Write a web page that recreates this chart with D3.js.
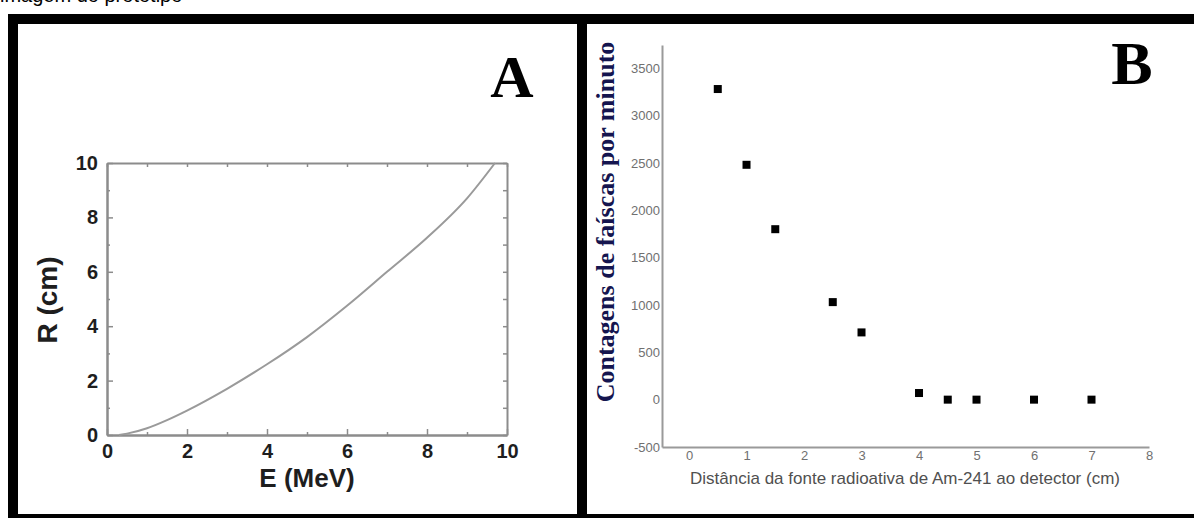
<!DOCTYPE html>
<html>
<head>
<meta charset="utf-8">
<script src="https://cdn.jsdelivr.net/npm/d3@7"></script>
<style>
	body { margin: 0; background: #fff; }
	svg { display: block; }
	.axA text { font-family: "Liberation Sans", Arial, sans-serif; font-weight: bold; font-size: 20px; fill: #1e1e1e; }
	.axA path, .axA line { stroke: #8c8c8c; }
	.axB text { font-family: "Liberation Sans", Arial, sans-serif; font-size: 13px; fill: #707070; }
	.axB path { stroke: #9a9a9a; stroke-width: 2; }
</style>
</head>
<body>
<svg id="chart" width="1194" height="518"></svg>
<script>
// panel A: range of alpha particles in air
const energyMeV = [0.3, 0.5, 1, 1.5, 2, 3, 4, 5, 6, 7, 8, 9, 9.7]
const rangeCm = [0, 0.05, 0.25, 0.55, 0.9, 1.7, 2.6, 3.6, 4.75, 6.0, 7.25, 8.7, 10]
const ticksA = [0, 2, 4, 6, 8, 10]
const minorA = [1, 3, 5, 7, 9]

// panel B: spark counts vs distance
const distanceCm = [0.5, 1, 1.5, 2.5, 3, 4, 4.5, 5, 6, 7]
const sparksPerMin = [3280, 2480, 1800, 1030, 710, 70, 0, 0, 0, 0]
const ticksBx = [0, 1, 2, 3, 4, 5, 6, 7, 8]
const ticksBy = [-500, 0, 500, 1000, 1500, 2000, 2500, 3000, 3500]

const svg = d3.select('#chart')

// caption line, only its lower edge is inside the picture
svg.append('text')
	.attr('x', 0).attr('y', 2)
	.style('font-family', 'Liberation Sans, Arial, sans-serif')
	.style('font-size', '20px')
	.text('imagem do protótipo')

// frame
svg.append('rect')
	.attr('x', 13).attr('y', 19).attr('width', 1200).attr('height', 500)
	.attr('fill', 'none').attr('stroke', '#000').attr('stroke-width', 10)
svg.append('line')
	.attr('x1', 582).attr('x2', 582).attr('y1', 14).attr('y2', 518)
	.attr('stroke', '#000').attr('stroke-width', 10)

// ---------- A ----------
let xA = d3.scaleLinear().domain([0, 10]).range([107, 507])
let yA = d3.scaleLinear().domain([0, 10]).range([435, 163])

let gA = svg.append('g')

gA.append('g').attr('class', 'axA').attr('transform', 'translate(0,435)')
	.call(d3.axisBottom(xA).tickValues(ticksA).tickSize(-6).tickSizeOuter(0).tickPadding(9))
gA.append('g').attr('class', 'axA').attr('transform', 'translate(0,435)')
	.call(d3.axisBottom(xA).tickValues(minorA).tickSize(-3).tickSizeOuter(0).tickFormat(''))
gA.append('g').attr('class', 'axA').attr('transform', 'translate(107,0)')
	.call(d3.axisLeft(yA).tickValues(ticksA).tickSize(-6).tickSizeOuter(0).tickPadding(9))
gA.append('g').attr('class', 'axA').attr('transform', 'translate(107,0)')
	.call(d3.axisLeft(yA).tickValues(minorA).tickSize(-3).tickSizeOuter(0).tickFormat(''))
gA.append('g').attr('class', 'axA').attr('transform', 'translate(0,163)')
	.call(d3.axisTop(xA).tickValues(ticksA.concat(minorA)).tickSize(-4).tickSizeOuter(0).tickFormat(''))
gA.append('g').attr('class', 'axA').attr('transform', 'translate(507,0)')
	.call(d3.axisRight(yA).tickValues(ticksA.concat(minorA)).tickSize(-4).tickSizeOuter(0).tickFormat(''))
gA.selectAll('.axA path').attr('stroke-width', 2)
gA.selectAll('.axA line').attr('stroke-width', 1.5)

let curve = d3.line()
	.x((d, i) => xA(energyMeV[i]))
	.y((d) => yA(d))
	.curve(d3.curveMonotoneX)

gA.append('path')
	.attr('d', curve(rangeCm))
	.attr('fill', 'none').attr('stroke', '#9a9a9a').attr('stroke-width', 2)

gA.append('text')
	.attr('x', 307).attr('y', 487).attr('text-anchor', 'middle')
	.style('font-family', 'Liberation Sans, Arial, sans-serif')
	.style('font-weight', 'bold').style('font-size', '26px').style('fill', '#1e1e1e')
	.text('E (MeV)')
gA.append('text')
	.attr('transform', 'translate(57,300) rotate(-90)').attr('text-anchor', 'middle')
	.style('font-family', 'Liberation Sans, Arial, sans-serif')
	.style('font-weight', 'bold').style('font-size', '28px').style('fill', '#1e1e1e')
	.text('R (cm)')
gA.append('text')
	.attr('x', 512).attr('y', 97).attr('text-anchor', 'middle')
	.style('font-family', 'Liberation Serif, Times New Roman, serif')
	.style('font-weight', 'bold').style('font-size', '60px')
	.text('A')

// ---------- B ----------
let xB = d3.scaleLinear().domain([-0.47, 8]).range([662, 1149])
let yB = d3.scaleLinear().domain([-500, 3745]).range([447, 45])

let gB = svg.append('g')

// plain hyphen for negatives, as in the original
let plain = (d) => String(d)

gB.append('g').attr('class', 'axB').attr('transform', 'translate(0,447)')
	.call(d3.axisBottom(xB).tickValues(ticksBx).tickSize(0).tickPadding(4).tickFormat(plain))
gB.append('g').attr('class', 'axB').attr('transform', 'translate(662,0)')
	.call(d3.axisLeft(yB).tickValues(ticksBy).tickSize(0).tickPadding(2).tickFormat(plain))

gB.selectAll('rect.pt')
	.data(sparksPerMin)
	.enter().append('rect').attr('class', 'pt')
	.attr('x', (d, i) => xB(distanceCm[i]) - 4)
	.attr('y', (d) => yB(d) - 4)
	.attr('width', 8).attr('height', 8)
	.attr('fill', '#000')

gB.append('text')
	.attr('x', 905).attr('y', 484).attr('text-anchor', 'middle')
	.style('font-family', 'Liberation Sans, Arial, sans-serif')
	.style('font-size', '17px').style('fill', '#505050')
	.text('Distância da fonte radioativa de Am-241 ao detector (cm)')
gB.append('text')
	.attr('transform', 'translate(614,222) rotate(-90)').attr('text-anchor', 'middle')
	.style('font-family', 'Liberation Serif, Times New Roman, serif')
	.style('font-weight', 'bold').style('font-size', '26px').style('fill', '#15154f')
	.text('Contagens de faíscas por minuto')
gB.append('text')
	.attr('x', 1132).attr('y', 84).attr('text-anchor', 'middle')
	.style('font-family', 'Liberation Serif, Times New Roman, serif')
	.style('font-weight', 'bold').style('font-size', '62px')
	.text('B')
</script>
</body>
</html>
